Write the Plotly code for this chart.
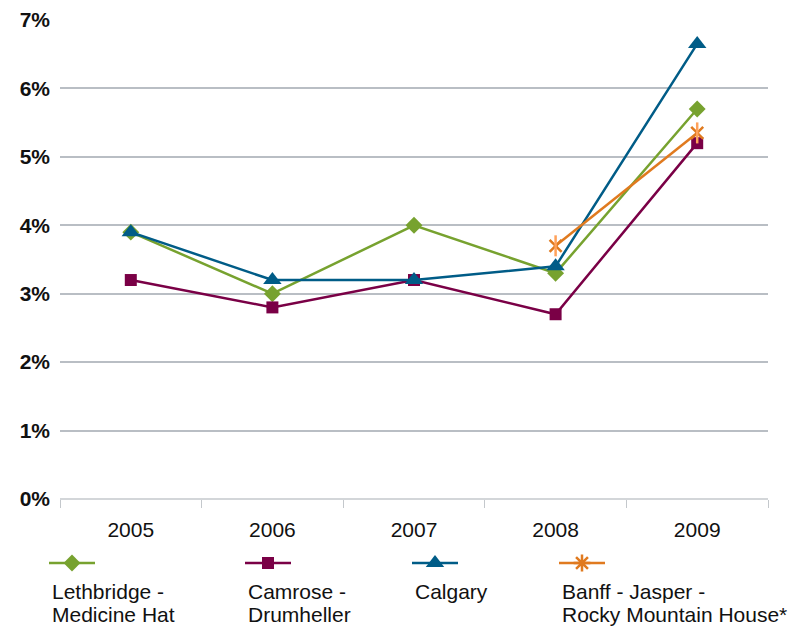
import plotly.graph_objects as go

years = ["2005", "2006", "2007", "2008", "2009"]
lethbridge = [3.9, 3.0, 4.0, 3.3, 5.7]
camrose = [3.2, 2.8, 3.2, 2.7, 5.2]
calgary = [3.9, 3.2, 3.2, 3.4, 6.65]
banff = [None, None, None, 3.7, 5.35]

names = [["Lethbridge -", "Medicine Hat"], ["Camrose -", "Drumheller"], ["Calgary"],
         ["Banff - Jasper -", "Rocky Mountain House*"]]
colors = ["#77A22F", "#7A0046", "#005C87", "#E07A1F"]
y_ticks = [0, 1, 2, 3, 4, 5, 6, 7]
y_tick_text = ["0%", "1%", "2%", "3%", "4%", "5%", "6%", "7%"]

W, H = 809, 626
L, R, T, B = 60, 768, 20, 499
FONT = "Liberation Sans, Arial, Helvetica, sans-serif"

fig = go.Figure()
series = [(lethbridge, "diamond", 13), (camrose, "square", 12), (calgary, "triangle-up", 16)]
for i, (vals, sym, sz) in enumerate(series):
    fig.add_trace(go.Scatter(x=years, y=vals, mode="lines+markers",
                             line=dict(color=colors[i], width=2.5),
                             marker=dict(symbol=sym, size=sz, color=colors[i]),
                             showlegend=False, cliponaxis=False))
fig.add_trace(go.Scatter(x=years, y=banff, mode="lines+markers",
                         line=dict(color=colors[3], width=2.5),
                         marker=dict(symbol="x-thin-open", size=12,
                                     line=dict(color=colors[3], width=2.5)),
                         showlegend=False, cliponaxis=False))
fig.add_trace(go.Scatter(x=years, y=banff, mode="markers",
                         marker=dict(symbol="line-ns-open", size=15,
                                     line=dict(color=colors[3], width=2.5)),
                         showlegend=False, cliponaxis=False))

# custom legend (overlay axis in pixel coordinates)
leg_x = [49, 245, 412, 559]
leg_syms = [("diamond", 13), ("square", 12), ("triangle-up", 16), ("asterisk-open", 14)]
for i in range(4):
    fig.add_trace(go.Scatter(x=[leg_x[i], leg_x[i] + 46], y=[563, 563], mode="lines",
                             line=dict(color=colors[i], width=2.5),
                             xaxis="x2", yaxis="y2", showlegend=False, hoverinfo="skip"))
    sym, sz = leg_syms[i]
    mk = dict(symbol=sym, size=sz, color=colors[i])
    if sym == "asterisk-open":
        mk["line"] = dict(color=colors[i], width=2.5)
    fig.add_trace(go.Scatter(x=[leg_x[i] + 23], y=[563], mode="markers", marker=mk,
                             xaxis="x2", yaxis="y2", showlegend=False, hoverinfo="skip"))
    for j, line in enumerate(names[i]):
        fig.add_annotation(x=leg_x[i] + 1, y=591 + 23 * j, xref="x2", yref="y2", text=line,
                           showarrow=False, xanchor="left", yanchor="middle", align="left",
                           font=dict(size=21, color="#111", family=FONT))

fig.update_layout(
    width=W, height=H, margin=dict(l=0, r=0, t=0, b=0, autoexpand=False),
    plot_bgcolor="rgba(0,0,0,0)", paper_bgcolor="white",
    font=dict(family=FONT, color="#111"),
    xaxis=dict(type="category", domain=[L / W, R / W], tickson="boundaries",
               ticks="outside", ticklen=8, tickcolor="#c4c8cc", showline=False,
               showgrid=False, tickfont=dict(size=21), ticklabelstandoff=16,
               range=[-0.5, 4.5], automargin=False),
    yaxis=dict(domain=[(H - B) / H, (H - T) / H], range=[0, 7], tickvals=y_ticks,
               ticktext=y_tick_text, showgrid=True, gridcolor="#b9bec4", gridwidth=1.5,
               zeroline=False, showline=False, ticks="", ticklabelstandoff=9,
               tickfont=dict(size=21, family=FONT, weight="bold"), automargin=False),
    xaxis2=dict(domain=[0, 1], range=[0, W], visible=False, anchor="y2", automargin=False),
    yaxis2=dict(domain=[0, 1], range=[H, 0], visible=False, anchor="x2", automargin=False),
    shapes=[dict(type="line", xref="paper", yref="paper", x0=L / W, x1=R / W,
                 y0=(H - B) / H, y1=(H - B) / H, line=dict(color="#c4c8cc", width=1.5))],
)

fig.write_html("out.html")
